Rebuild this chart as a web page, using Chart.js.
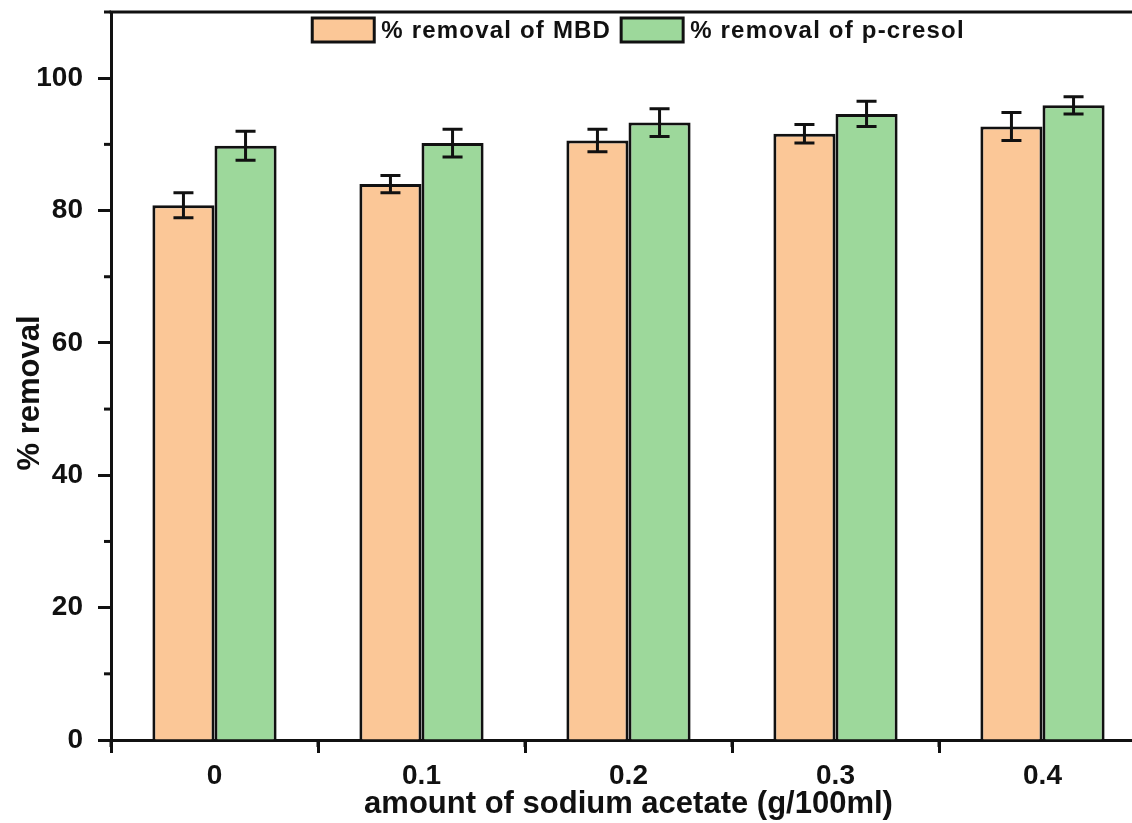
<!DOCTYPE html>
<html>
<head>
<meta charset="utf-8">
<script src="https://cdn.jsdelivr.net/npm/chart.js@4.4.0/dist/chart.umd.min.js"></script>
<style>
  html, body { margin: 0; padding: 0; background: #fff; overflow: hidden; }
  #wrap { width: 1160px; height: 823px; }
</style>
</head>
<body>
<div id="wrap"><canvas id="chart" width="1160" height="823"></canvas></div>
<script>
// data
const categories = ['0', '0.1', '0.2', '0.3', '0.4'];
const mbdRemoval = [80.8, 84.0, 90.6, 91.6, 92.7];
const mbdError = [1.9, 1.3, 1.7, 1.4, 2.1];
const cresolRemoval = [89.8, 90.2, 93.3, 94.6, 95.9];
const cresolError = [2.2, 2.1, 2.1, 1.9, 1.3];
const yTicks = [0, 20, 40, 60, 80, 100];
const yTitle = '% removal';

const FONT = 'Liberation Sans, Arial, sans-serif';
const INK = '#111';

// error bars drawn on top of the bars
const errorBars = {
    id: 'errorBars',
    afterDatasetsDraw(chart) {
        const ctx = chart.ctx;
        const y = chart.scales.y;
        ctx.save();
        ctx.strokeStyle = INK;
        ctx.lineWidth = 3;
        chart.data.datasets.forEach((ds, i) => {
            const meta = chart.getDatasetMeta(i);
            meta.data.forEach((bar, j) => {
                const v = ds.data[j], e = ds.errors[j];
                const top = y.getPixelForValue(v + e);
                const bot = y.getPixelForValue(v - e);
                const half = 10;
                ctx.beginPath();
                ctx.moveTo(bar.x, top); ctx.lineTo(bar.x, bot);
                ctx.moveTo(bar.x - half, top); ctx.lineTo(bar.x + half, top);
                ctx.moveTo(bar.x - half, bot); ctx.lineTo(bar.x + half, bot);
                ctx.stroke();
            });
        });
        ctx.restore();
    }
};

// legend inside the plot, along the top edge
const topLegend = {
    id: 'topLegend',
    afterDraw(chart) {
        const ctx = chart.ctx;
        const a = chart.chartArea;
        const boxW = 62, boxH = 24, gapText = 7, gapItem = 10;
        ctx.save();
        ctx.font = 'bold 24px ' + FONT;
        ctx.letterSpacing = '1.2px';
        const items = chart.data.datasets.map(ds => ({
            label: ds.label, fill: ds.backgroundColor,
            w: ctx.measureText(ds.label).width
        }));
        const total = items.reduce((s, it) => s + boxW + gapText + it.w, 0) + gapItem * (items.length - 1);
        let x = (a.left + a.right) / 2 + 10 - total / 2;
        const top = a.top + 6;
        ctx.textBaseline = 'middle';
        items.forEach(it => {
            ctx.fillStyle = it.fill;
            ctx.fillRect(x, top, boxW, boxH);
            ctx.strokeStyle = INK;
            ctx.lineWidth = 3;
            ctx.strokeRect(x, top, boxW, boxH);
            ctx.fillStyle = INK;
            ctx.fillText(it.label, x + boxW + gapText, top + boxH / 2 + 1);
            x += boxW + gapText + it.w + gapItem;
        });
        ctx.restore();
    }
};

// y title, sitting a little below the middle of the axis as in the original
const yAxisTitle = {
    id: 'yAxisTitle',
    afterDraw(chart) {
        const ctx = chart.ctx;
        const a = chart.chartArea;
        ctx.save();
        ctx.translate(30, (a.top + a.bottom) / 2 + 17);
        ctx.rotate(-Math.PI / 2);
        ctx.font = 'bold 31px ' + FONT;
        ctx.fillStyle = INK;
        ctx.textAlign = 'center';
        ctx.textBaseline = 'middle';
        ctx.fillText(yTitle, 0, 0);
        ctx.restore();
    }
};

// top frame line and minor ticks
const frame = {
    id: 'frame',
    afterDraw(chart) {
        const ctx = chart.ctx;
        const a = chart.chartArea;
        const x = chart.scales.x, y = chart.scales.y;
        ctx.save();
        ctx.strokeStyle = INK;
        ctx.lineWidth = 3;
        ctx.beginPath();
        ctx.moveTo(a.left - 1.5, a.top);
        ctx.lineTo(a.right + 1.5, a.top);
        ctx.stroke();
        // minor ticks on y at the half steps
        for (let i = 0; i < yTicks.length; i++) {
            const py = y.getPixelForValue(yTicks[i] + 10);
            ctx.beginPath();
            ctx.moveTo(a.left, py); ctx.lineTo(a.left - 7, py);
            ctx.stroke();
        }
        // minor ticks on x between categories
        for (let i = 0; i <= categories.length; i++) {
            const px = x.getPixelForValue(i - 0.5);
            ctx.beginPath();
            ctx.moveTo(px, a.bottom); ctx.lineTo(px, a.bottom + 7);
            ctx.stroke();
        }
        ctx.restore();
    }
};

new Chart(document.getElementById('chart').getContext('2d'), {
    type: 'bar',
    data: {
        labels: categories,
        datasets: [{
            label: '% removal of MBD',
            data: mbdRemoval,
            errors: mbdError,
            backgroundColor: '#FBC797',
            borderColor: INK,
            borderWidth: 3
        }, {
            label: '% removal of p-cresol',
            data: cresolRemoval,
            errors: cresolError,
            backgroundColor: '#9DD89B',
            borderColor: INK,
            borderWidth: 3
        }]
    },
    options: {
        responsive: false,
        animation: false,
        layout: { padding: { top: 12, right: 14, left: 0, bottom: 0 } },
        datasets: {
            bar: { categoryPercentage: 0.6, barPercentage: 1.0 }
        },
        plugins: {
            legend: { display: false },
            tooltip: { enabled: false }
        },
        scales: {
            x: {
                afterFit(scale) { scale.height = 83; },
                grid: { drawOnChartArea: false, tickLength: 13, tickWidth: 3, tickColor: INK },
                border: { color: INK, width: 3 },
                ticks: { color: INK, padding: 6, font: { family: FONT, size: 28, weight: 'bold' } },
                title: {
                    display: true,
                    text: 'amount of sodium acetate (g/100ml)',
                    color: INK,
                    padding: { top: 0, bottom: 0 },
                    font: { family: FONT, size: 31, weight: 'bold' }
                }
            },
            y: {
                min: 0,
                max: 110,
                afterFit(scale) {
                    scale.width = 111;
                    scale.paddingTop = 0;
                    scale.paddingBottom = 0;
                },
                afterBuildTicks(scale) { scale.ticks = yTicks.map(v => ({ value: v })); },
                grid: { drawOnChartArea: false, tickLength: 13, tickWidth: 3, tickColor: INK },
                border: { color: INK, width: 3 },
                ticks: { color: INK, padding: 15, font: { family: FONT, size: 28, weight: 'bold' } },
                title: { display: false }
            }
        }
    },
    plugins: [errorBars, topLegend, yAxisTitle, frame]
});
</script>
</body>
</html>
